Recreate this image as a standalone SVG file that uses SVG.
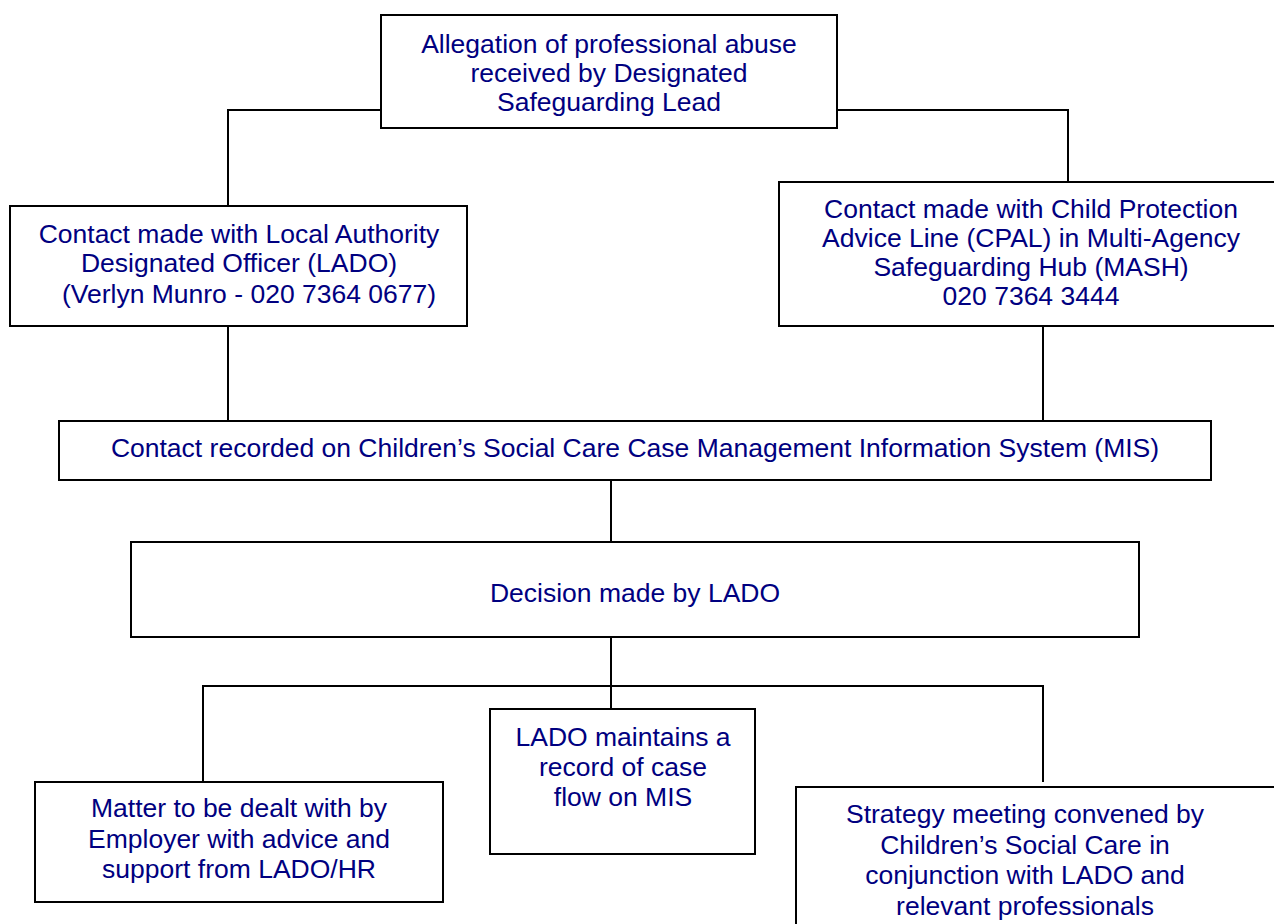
<svg xmlns="http://www.w3.org/2000/svg" width="1274" height="924" viewBox="0 0 1274 924">
<style>
.box{fill:#fff;stroke:#000;stroke-width:2}
.t{font-family:"Liberation Sans",Arial,sans-serif;font-size:26.5px;fill:#000080;text-anchor:middle}
.c{fill:none;stroke:#000;stroke-width:2}
</style>
<rect width="1274" height="924" fill="#fff"/>
<g id="connectors">
<path class="c" d="M381 110H228V206"/>
<path class="c" d="M837 110H1068V182"/>
<path class="c" d="M228 326V421"/>
<path class="c" d="M1043 326V421"/>
<path class="c" d="M611 480V542"/>
<path class="c" d="M611 637V709"/>
<path class="c" d="M203 782V686H1043V782"/>
</g>
<g id="n1">
<rect class="box" x="381" y="15" width="456" height="113"/>
<text class="t" x="609" y="53">Allegation of professional abuse</text>
<text class="t" x="609" y="82">received by Designated</text>
<text class="t" x="609" y="111">Safeguarding Lead</text>
</g>
<g id="n2">
<rect class="box" x="10" y="206" width="457" height="120"/>
<text class="t" x="239" y="243">Contact made with Local Authority</text>
<text class="t" x="239" y="272">Designated Officer (LADO)</text>
<text class="t" x="249" y="303">(Verlyn Munro - 020 7364 0677)</text>
</g>
<g id="n3">
<rect class="box" x="779" y="182" width="500" height="144"/>
<text class="t" x="1031" y="218">Contact made with Child Protection</text>
<text class="t" x="1031" y="247">Advice Line (CPAL) in Multi-Agency</text>
<text class="t" x="1031" y="276">Safeguarding Hub (MASH)</text>
<text class="t" x="1031" y="305">020 7364 3444</text>
</g>
<g id="n4">
<rect class="box" x="59" y="421" width="1152" height="59"/>
<text class="t" x="635" y="457">Contact recorded on Children’s Social Care Case Management Information System (MIS)</text>
</g>
<g id="n5">
<rect class="box" x="131" y="542" width="1008" height="95"/>
<text class="t" x="635" y="602">Decision made by LADO</text>
</g>
<g id="n6">
<rect class="box" x="490" y="709" width="265" height="145"/>
<text class="t" x="623" y="746">LADO maintains a</text>
<text class="t" x="623" y="776">record of case</text>
<text class="t" x="623" y="806">flow on MIS</text>
</g>
<g id="n7">
<rect class="box" x="35" y="782" width="408" height="120"/>
<text class="t" x="239" y="817">Matter to be dealt with by</text>
<text class="t" x="239" y="848">Employer with advice and</text>
<text class="t" x="239" y="878">support from LADO/HR</text>
</g>
<g id="n8">
<rect class="box" x="796" y="787" width="484" height="150"/>
<text class="t" x="1025" y="823">Strategy meeting convened by</text>
<text class="t" x="1025" y="854">Children’s Social Care in</text>
<text class="t" x="1025" y="884">conjunction with LADO and</text>
<text class="t" x="1025" y="915">relevant professionals</text>
</g>
</svg>
